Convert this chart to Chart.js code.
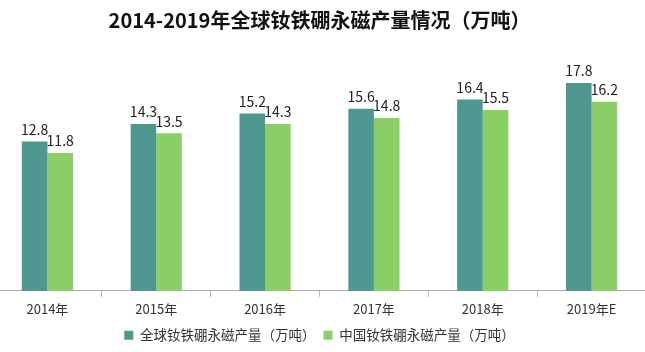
<!DOCTYPE html>
<html lang="zh">
<head>
    <meta charset="UTF-8">
    <title>钕铁硼永磁产量</title>
    <script src="https://cdn.jsdelivr.net/npm/chart.js"></script>
    <style>
        html, body {
            margin: 0;
            padding: 0;
            background: #fff;
            overflow: hidden;
        }
        .chart-box {
            position: absolute;
            left: -7px;
            top: 0;
            width: 653px;
            height: 352px;
        }
    </style>
</head>
<body>
<div class="chart-box">
    <canvas id="chart"></canvas>
</div>
<script>
    // 数据
    const years = ['2014年', '2015年', '2016年', '2017年', '2018年', '2019年E'];
    const globalOutput = [12.8, 14.3, 15.2, 15.6, 16.4, 17.8];
    const chinaOutput = [11.8, 13.5, 14.3, 14.8, 15.5, 16.2];
    const seriesNames = ['全球钕铁硼永磁产量（万吨）', '中国钕铁硼永磁产量（万吨）'];

    const FONT = '"Noto Sans CJK SC", "Noto Sans", sans-serif';

    // 柱子上方的数值
    const valueLabels = {
        id: 'valueLabels',
        afterDatasetsDraw(chart) {
            const ctx = chart.ctx;
            ctx.save();
            ctx.font = '14px ' + FONT;
            ctx.fillStyle = '#222';
            ctx.textAlign = 'center';
            ctx.textBaseline = 'bottom';
            chart.data.datasets.forEach((ds, i) => {
                chart.getDatasetMeta(i).data.forEach((bar, j) => {
                    ctx.fillText(ds.data[j].toFixed(1), bar.x, bar.y - 5);
                });
            });
            ctx.restore();
        }
    };

    new Chart(document.getElementById('chart'), {
        type: 'bar',
        data: {
            labels: years,
            datasets: [
                {label: seriesNames[0], data: globalOutput, backgroundColor: '#4F9891'},
                {label: seriesNames[1], data: chinaOutput, backgroundColor: '#8ACE65'}
            ]
        },
        options: {
            responsive: true,
            maintainAspectRatio: false,
            animation: false,
            layout: {padding: {top: 0, bottom: 0, left: 0, right: 0}},
            datasets: {
                bar: {categoryPercentage: 0.47, barPercentage: 1.0}
            },
            plugins: {
                title: {
                    display: true,
                    text: '2014-2019年全球钕铁硼永磁产量情况（万吨）',
                    color: '#111',
                    font: {family: FONT, size: 20, weight: 'bold'},
                    padding: {top: 8, bottom: 16}
                },
                legend: {
                    position: 'bottom',
                    labels: {
                        color: '#333',
                        font: {family: FONT, size: 13.5},
                        boxWidth: 9,
                        boxHeight: 9,
                        padding: 8
                    }
                },
                tooltip: {enabled: false}
            },
            scales: {
                x: {
                    grid: {
                        offset: true,
                        drawOnChartArea: false,
                        drawTicks: true,
                        tickLength: 6,
                        color: '#bbb'
                    },
                    border: {display: true, color: '#aaa'},
                    ticks: {
                        color: '#333',
                        font: {family: FONT, size: 13},
                        padding: 4
                    }
                },
                y: {
                    display: false,
                    min: 0,
                    max: 20.8
                }
            }
        },
        plugins: [valueLabels]
    });
</script>
</body>
</html>
